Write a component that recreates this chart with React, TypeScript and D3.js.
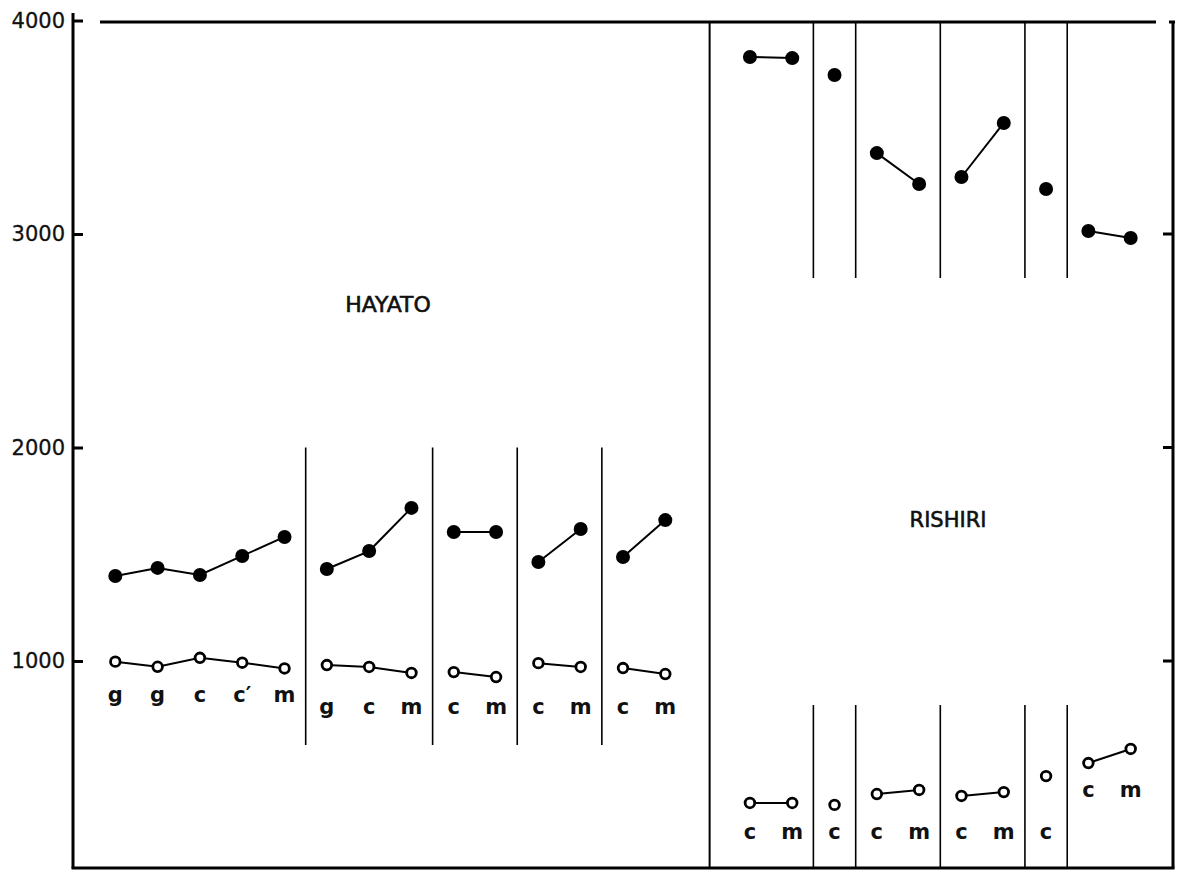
import { useEffect, useRef } from "react";
import * as d3 from "d3";

// values
const yTicks = [1000, 2000, 3000, 4000];
const rightTicks = [1000, 2000, 3000];

const hayatoLabels = [["g", "g", "c", "c\u2032", "m"], ["g", "c", "m"], ["c", "m"], ["c", "m"], ["c", "m"]];
const hayatoFilled = [[1398, 1436, 1403, 1492, 1581], [1431, 1515, 1717], [1604, 1604], [1464, 1618], [1487, 1660]];
const hayatoOpen = [[997, 973, 1015, 992, 965], [981, 972, 944], [948, 925], [990, 972], [967, 939]];

const rishiriLabels = [["c", "m"], ["c"], ["c", "m"], ["c", "m"], ["c"], ["c", "m"]];
const rishiriFilled = [[3829, 3824], [3745], [3379, 3234], [3267, 3520], [3211], [3014, 2981]];
const rishiriOpen = [[335, 335], [326], [377, 396], [368, 386], [461], [522, 588]];

const FONT = "'DejaVu Sans', sans-serif";

const App = () => {
    const svgRef = useRef<SVGSVGElement | null>(null);

    useEffect(() => {
        const width = 1182;
        const height = 873;

        const svg = d3.select(svgRef.current).attr("width", width).attr("height", height);
        svg.selectAll("*").remove();

        // slot scale: one slot per sample, -1 = left axis, 25 = right axis
        const x = d3.scaleLinear().domain([-1, 25]).range([73, 1173]);
        const y = d3.scaleLinear().domain([0, 4000]).range([874.5, 20.5]);

        const top = 22;
        const bottom = 868;

        // build groups with slot positions
        type Group = { labels: string[]; filled: number[]; open: number[]; start: number };
        const layout = (labels: string[][], filled: number[][], open: number[][], start: number) => {
            const out: Group[] = [];
            let s = start;
            labels.forEach((l, i) => {
                out.push({ labels: l, filled: filled[i], open: open[i], start: s });
                s += l.length;
            });
            return out;
        };
        const hayato = layout(hayatoLabels, hayatoFilled, hayatoOpen, 0);
        const rishiri = layout(rishiriLabels, rishiriFilled, rishiriOpen, 15);

        const g = svg.append("g");

        // frame
        g.append("line").attr("x1", x(-1)).attr("x2", x(-1)).attr("y1", 13).attr("y2", bottom)
            .attr("stroke", "#000").attr("stroke-width", 3);
        g.append("line").attr("x1", 100).attr("x2", 1156).attr("y1", top).attr("y2", top)
            .attr("stroke", "#000").attr("stroke-width", 3);
        g.append("line").attr("x1", x(25)).attr("x2", x(25)).attr("y1", top).attr("y2", bottom)
            .attr("stroke", "#000").attr("stroke-width", 3);
        g.append("line").attr("x1", x(25) - 4).attr("x2", x(25) + 2).attr("y1", top).attr("y2", top)
            .attr("stroke", "#000").attr("stroke-width", 3);
        g.append("line").attr("x1", x(-1) - 1.5).attr("x2", x(25) + 1.5).attr("y1", bottom).attr("y2", bottom)
            .attr("stroke", "#000").attr("stroke-width", 3);
        // middle divider
        g.append("line").attr("x1", x(14) + 2).attr("x2", x(14) + 2).attr("y1", top).attr("y2", bottom)
            .attr("stroke", "#000").attr("stroke-width", 2);

        // left axis
        const leftAxis = g.append("g")
            .attr("transform", `translate(${x(-1)},0)`)
            .call(d3.axisLeft(y).tickValues(yTicks).tickFormat(d3.format("d"))
                .tickSizeInner(-10).tickSizeOuter(0).tickPadding(8));
        leftAxis.select(".domain").remove();
        leftAxis.selectAll("line").attr("stroke-width", 3);
        leftAxis.selectAll("text").attr("font-family", FONT).attr("font-size", 21).attr("fill", "#111")
            .attr("stroke", "#111").attr("stroke-width", 0.3);

        // right axis ticks (inward)
        g.selectAll(".rtick").data(rightTicks).enter().append("line")
            .attr("class", "rtick")
            .attr("x1", x(25) - 10).attr("x2", x(25))
            .attr("y1", (d) => y(d)).attr("y2", (d) => y(d))
            .attr("stroke", "#000").attr("stroke-width", 3);

        // group dividers
        const hayatoDiv = hayato.slice(1).map((d) => d.start - 0.5);
        g.selectAll(".hdiv").data(hayatoDiv).enter().append("line")
            .attr("class", "hdiv")
            .attr("x1", (d) => x(d)).attr("x2", (d) => x(d))
            .attr("y1", y(2000)).attr("y2", 745)
            .attr("stroke", "#000").attr("stroke-width", 1.6);

        const rishiriDiv = rishiri.slice(1).map((d) => d.start - 0.5);
        g.selectAll(".rdivTop").data(rishiriDiv).enter().append("line")
            .attr("class", "rdivTop")
            .attr("x1", (d) => x(d)).attr("x2", (d) => x(d))
            .attr("y1", top).attr("y2", 278)
            .attr("stroke", "#000").attr("stroke-width", 1.6);
        g.selectAll(".rdivBot").data(rishiriDiv).enter().append("line")
            .attr("class", "rdivBot")
            .attr("x1", (d) => x(d)).attr("x2", (d) => x(d))
            .attr("y1", 705).attr("y2", bottom)
            .attr("stroke", "#000").attr("stroke-width", 1.6);

        const line = d3.line<[number, number]>().x((d) => x(d[0])).y((d) => y(d[1]));

        const drawGroups = (groups: Group[], labelY: (i: number) => number) => {
            groups.forEach((grp, gi) => {
                const filledPts = grp.filled.map((v, i) => [grp.start + i, v] as [number, number]);
                const openPts = grp.open.map((v, i) => [grp.start + i, v] as [number, number]);

                if (filledPts.length > 1) {
                    g.append("path").attr("d", line(filledPts)).attr("fill", "none")
                        .attr("stroke", "#000").attr("stroke-width", 2);
                }
                if (openPts.length > 1) {
                    g.append("path").attr("d", line(openPts)).attr("fill", "none")
                        .attr("stroke", "#000").attr("stroke-width", 2);
                }
                g.append("g").selectAll("circle").data(filledPts).enter().append("circle")
                    .attr("cx", (d) => x(d[0])).attr("cy", (d) => y(d[1]))
                    .attr("r", 7).attr("fill", "#000");
                g.append("g").selectAll("circle").data(openPts).enter().append("circle")
                    .attr("cx", (d) => x(d[0])).attr("cy", (d) => y(d[1]))
                    .attr("r", 4.8).attr("fill", "#fff").attr("stroke", "#000").attr("stroke-width", 2.8);

                g.append("g").selectAll("text").data(grp.labels).enter().append("text")
                    .attr("x", (_d, i) => x(grp.start + i))
                    .attr("y", labelY(gi))
                    .attr("text-anchor", "middle")
                    .attr("font-family", FONT)
                    .attr("font-size", 21)
                    .attr("font-weight", "bold")
                    .attr("fill", "#111")
                    .text((d) => d);
            });
        };

        drawGroups(hayato, (i) => (i === 0 ? 702 : 714));
        drawGroups(rishiri, (i) => (i === 5 ? 797 : 839));

        // site names
        g.append("text").attr("x", 388).attr("y", 312).attr("text-anchor", "middle")
            .attr("font-family", FONT).attr("font-size", 22).attr("fill", "#111")
            .attr("stroke", "#111").attr("stroke-width", 0.6).text("HAYATO");
        g.append("text").attr("x", 948).attr("y", 527).attr("text-anchor", "middle")
            .attr("font-family", FONT).attr("font-size", 21).attr("fill", "#111")
            .attr("stroke", "#111").attr("stroke-width", 0.6).text("RISHIRI");

        return () => {
            svg.selectAll("*").remove();
        };
    }, []);

    return <svg ref={svgRef} style={{ position: "absolute", left: 0, top: 0, background: "#fff" }}></svg>;
};

export default App;
